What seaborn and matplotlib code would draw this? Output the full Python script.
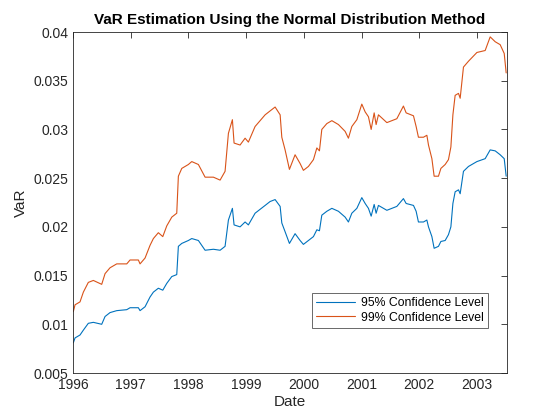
import matplotlib
matplotlib.use("Agg")
import matplotlib.pyplot as plt
from matplotlib.ticker import FuncFormatter
import numpy as np
import pandas as pd
import seaborn as sns

# decimal years
years = [1996.005, 1996.035, 1996.121, 1996.179, 1996.265, 1996.352, 1996.497, 1996.555,
         1996.641, 1996.757, 1996.931, 1996.988, 1997.132, 1997.161, 1997.248, 1997.334,
         1997.392, 1997.478, 1997.555, 1997.624, 1997.711, 1997.797, 1997.825, 1997.884,
         1997.998, 1998.057, 1998.172, 1998.288, 1998.432, 1998.548, 1998.634, 1998.692,
         1998.761, 1998.790, 1998.894, 1998.981, 1999.038, 1999.154, 1999.328, 1999.414,
         1999.501, 1999.588, 1999.617, 1999.674, 1999.749, 1999.847, 1999.934, 1999.991,
         2000.078, 2000.165, 2000.224, 2000.269, 2000.310, 2000.397, 2000.484, 2000.598,
         2000.714, 2000.771, 2000.830, 2000.917, 2001.003, 2001.061, 2001.118, 2001.165,
         2001.217, 2001.251, 2001.291, 2001.437, 2001.610, 2001.724, 2001.771, 2001.898,
         2001.944, 2001.984, 2002.071, 2002.130, 2002.158, 2002.217, 2002.256, 2002.331,
         2002.373, 2002.447, 2002.504, 2002.546, 2002.581, 2002.620, 2002.678, 2002.707,
         2002.764, 2002.851, 2002.997, 2003.140, 2003.227, 2003.314, 2003.400, 2003.470,
         2003.504]

var_95 = [0.0081, 0.0086, 0.0089, 0.0094, 0.0101, 0.0102, 0.0100, 0.0108,
          0.0112, 0.0114, 0.0115, 0.0117, 0.0117, 0.0114, 0.0118, 0.0128,
          0.0133, 0.0137, 0.0135, 0.0142, 0.0149, 0.0151, 0.0180, 0.0183,
          0.0186, 0.0188, 0.0186, 0.0176, 0.0177, 0.0176, 0.0180, 0.0207,
          0.0219, 0.0202, 0.0200, 0.0205, 0.0202, 0.0214, 0.0222, 0.0226,
          0.0228, 0.0221, 0.0204, 0.0195, 0.0183, 0.0193, 0.0186, 0.0182,
          0.0186, 0.0190, 0.0197, 0.0196, 0.0212, 0.0216, 0.0219, 0.0216,
          0.0210, 0.0205, 0.0214, 0.0219, 0.0230, 0.0224, 0.0219, 0.0211,
          0.0223, 0.0214, 0.0222, 0.0217, 0.0221, 0.0229, 0.0224, 0.0222,
          0.0216, 0.0205, 0.0205, 0.0207, 0.0200, 0.0190, 0.0178, 0.0180,
          0.0185, 0.0186, 0.0192, 0.0200, 0.0224, 0.0236, 0.0238, 0.0234,
          0.0257, 0.0262, 0.0267, 0.0270, 0.0279, 0.0278, 0.0274, 0.0270,
          0.0252]

var_99 = [0.0113, 0.0120, 0.0123, 0.0133, 0.0143, 0.0145, 0.0141, 0.0152,
          0.0158, 0.0162, 0.0162, 0.0166, 0.0166, 0.0162, 0.0168, 0.0181,
          0.0188, 0.0194, 0.0190, 0.0201, 0.0210, 0.0214, 0.0252, 0.0260,
          0.0264, 0.0267, 0.0264, 0.0251, 0.0251, 0.0248, 0.0257, 0.0296,
          0.0310, 0.0286, 0.0284, 0.0291, 0.0287, 0.0303, 0.0315, 0.0319,
          0.0323, 0.0315, 0.0292, 0.0279, 0.0259, 0.0274, 0.0265, 0.0258,
          0.0262, 0.0269, 0.0281, 0.0278, 0.0300, 0.0306, 0.0309, 0.0305,
          0.0298, 0.0291, 0.0303, 0.0310, 0.0326, 0.0318, 0.0313, 0.0300,
          0.0317, 0.0305, 0.0315, 0.0307, 0.0311, 0.0324, 0.0317, 0.0314,
          0.0303, 0.0292, 0.0292, 0.0294, 0.0284, 0.0270, 0.0252, 0.0252,
          0.0260, 0.0264, 0.0269, 0.0282, 0.0315, 0.0335, 0.0337, 0.0332,
          0.0364, 0.0370, 0.0379, 0.0381, 0.0395, 0.0390, 0.0387, 0.0378,
          0.0358]

labels = ["95% Confidence Level", "99% Confidence Level"]
colors = ["#0072BD", "#D95319"]
year_ticks = [1996, 1997, 1998, 1999, 2000, 2001, 2002, 2003]
var_ticks = [0.005, 0.01, 0.015, 0.02, 0.025, 0.03, 0.035, 0.04]

df = pd.concat([
    pd.DataFrame({"Date": years, "VaR": var_95, "Level": labels[0]}),
    pd.DataFrame({"Date": years, "VaR": var_99, "Level": labels[1]}),
])

sns.set_style("white")
plt.rcParams["font.family"] = ["Liberation Sans", "DejaVu Sans"]
dark = "#262626"

fig = plt.figure(figsize=(5.6, 4.2), dpi=100)
ax = fig.add_axes([0.1304, 0.1119, 0.7741, 0.8119])

sns.lineplot(data=df, x="Date", y="VaR", hue="Level", hue_order=labels,
             palette=colors, estimator=None, sort=True, linewidth=0.8, ax=ax)

ax.set_xlim(1996, 2003.51)
ax.set_ylim(0.005, 0.04)
ax.set_xticks(year_ticks)
ax.set_yticks(var_ticks)
ax.xaxis.set_major_formatter(FuncFormatter(lambda v, p: "%d" % v))
ax.yaxis.set_major_formatter(FuncFormatter(lambda v, p: "%g" % round(v, 4)))
ax.tick_params(direction="in", length=4, width=0.6, colors=dark, labelsize=10,
               top=True, right=True, labelcolor=dark)
for s in ax.spines.values():
    s.set_color(dark)
    s.set_linewidth(0.6)

ax.set_xlabel("Date", fontsize=11, color=dark, labelpad=2)
ax.set_ylabel("VaR", fontsize=11, color=dark, labelpad=4)
ax.set_title("VaR Estimation Using the Normal Distribution Method",
             fontsize=11, fontweight="bold", color="black", pad=6)

leg = ax.legend(loc="upper left", bbox_to_anchor=(0.551, 0.235), fontsize=8.8,
                frameon=True, fancybox=False, handlelength=3.2, handletextpad=0.45,
                borderpad=0.35, labelspacing=0.2, borderaxespad=0)
leg.get_frame().set_edgecolor(dark)
leg.get_frame().set_linewidth(0.6)
for t in leg.get_texts():
    t.set_color("black")

fig.savefig("out.png", dpi=100)
